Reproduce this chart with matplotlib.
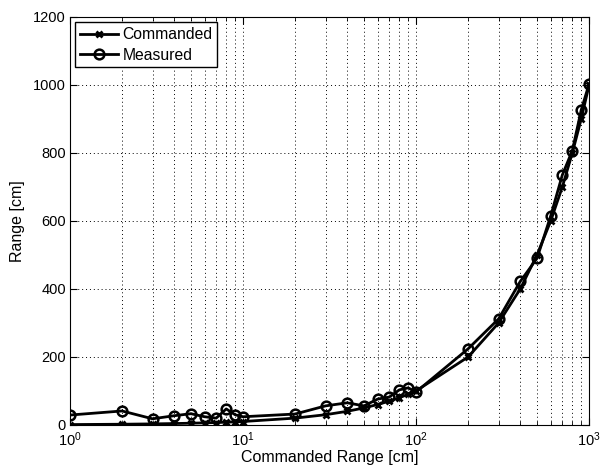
import matplotlib
matplotlib.use("Agg")
import matplotlib.pyplot as plt
from matplotlib.ticker import LogLocator, NullFormatter

plt.rcParams['font.family'] = ['Liberation Sans', 'DejaVu Sans']
plt.rcParams['mathtext.fontset'] = 'custom'
plt.rcParams['mathtext.rm'] = 'Liberation Sans'
plt.rcParams['mathtext.it'] = 'Liberation Sans:italic'
plt.rcParams['mathtext.bf'] = 'Liberation Sans:bold'

commanded = [1, 2, 3, 4, 5, 6, 7, 8, 9, 10,
             20, 30, 40, 50, 60, 70, 80, 90, 100,
             200, 300, 400, 500, 600, 700, 800, 900, 1000]
measured = [29, 41, 18, 27, 33, 24, 20, 47, 30, 24,
            32, 56, 65, 56, 76, 82, 103, 109, 97,
            224, 312, 422, 490, 615, 735, 807, 926, 1003]
yticks = [0, 200, 400, 600, 800, 1000, 1200]

fig = plt.figure(figsize=(6.03, 4.69), dpi=100)
ax = fig.add_axes([0.116, 0.094, 0.861, 0.87])

ax.semilogx(commanded, commanded, color='black', lw=2, marker='x', ms=4.5,
            mew=2, label='Commanded')
ax.semilogx(commanded, measured, color='black', lw=2, marker='o', ms=7,
            mfc='none', mew=1.8, label='Measured')

ax.set_xlim(1, 1000)
ax.set_ylim(0, 1200)
ax.set_yticks(yticks)
ax.xaxis.set_minor_locator(LogLocator(base=10, subs=range(2, 10)))
ax.xaxis.set_minor_formatter(NullFormatter())

grid_style = dict(linestyle=(0, (1, 3)), color='black', lw=0.7)
ax.grid(True, which='major', axis='both', **grid_style)
ax.grid(True, which='minor', axis='x', **grid_style)
ax.tick_params(which='both', direction='in', top=True, right=True, labelsize=10.5)
ax.tick_params(which='major', length=5, pad=3)
ax.tick_params(which='minor', length=3)
ax.tick_params(axis='x', which='major', pad=4)

ax.set_xlabel('Commanded Range [cm]', fontsize=11.5, labelpad=0.5)
ax.set_ylabel('Range [cm]', fontsize=11.5, labelpad=6)

leg = ax.legend(loc='upper left', fontsize=11.3, fancybox=False, framealpha=1,
                edgecolor='black', handlelength=2.4, handletextpad=0.3,
                borderaxespad=0.35, labelspacing=0.35, borderpad=0.3)
leg.get_frame().set_linewidth(1)

fig.savefig('out.png', dpi=100)
